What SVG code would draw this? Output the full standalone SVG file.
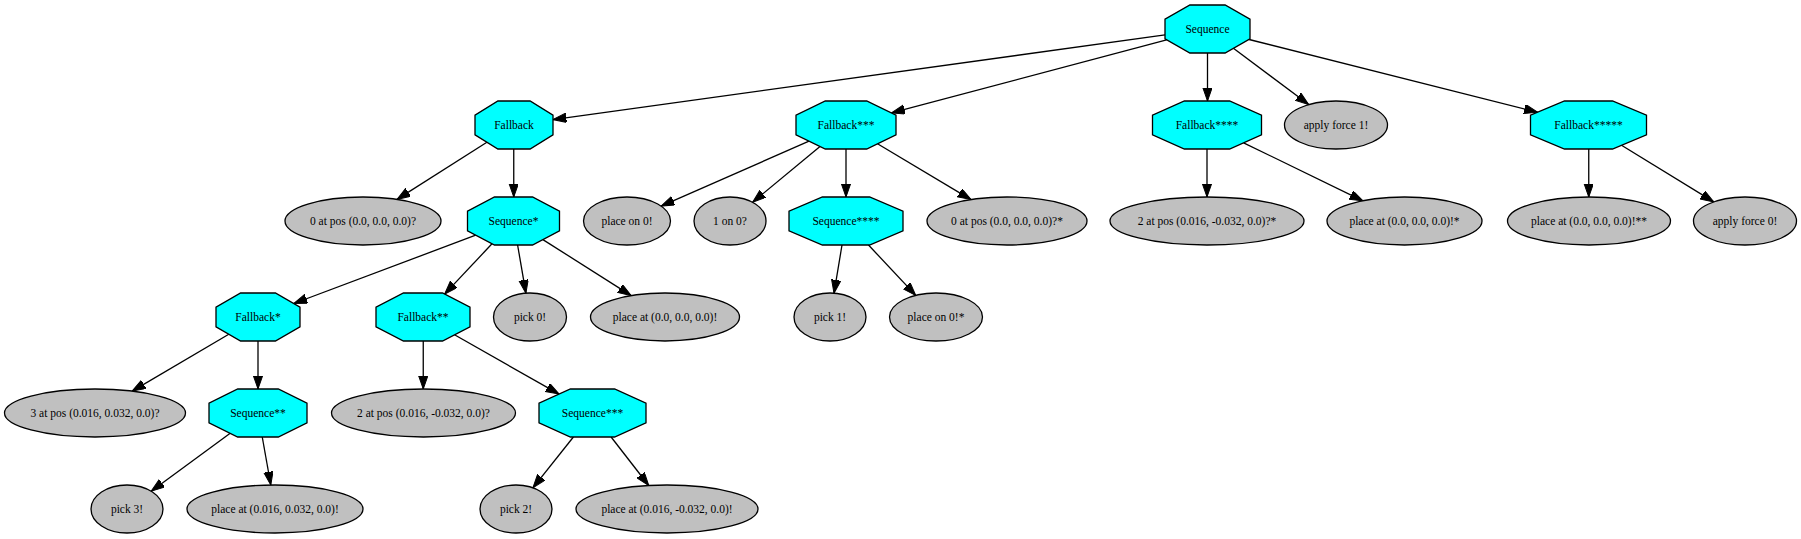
<svg xmlns="http://www.w3.org/2000/svg" width="1801" height="539" viewBox="0 0 1801 539">
<style>
.oct{fill:#00ffff;stroke:#000;stroke-width:1.3}
.ell{fill:#c0c0c0;stroke:#000;stroke-width:1.3}
text{font-family:"Liberation Serif","Times New Roman",serif;font-size:11.5px;text-anchor:middle;fill:#000}
.e line{stroke:#000;stroke-width:1.3;marker-end:url(#ah)}
</style>
<defs>
<marker id="ah" markerUnits="userSpaceOnUse" markerWidth="14" markerHeight="10" refX="13.3" refY="4.67" orient="auto" viewBox="0 0 14 10">
<path d="M0,0 L13.3,4.67 L0,9.33 z" fill="#000" stroke="#000" stroke-width="1"/>
</marker>
</defs>
<rect width="1801" height="539" fill="#fff"/>
<g id="connectors" class="e">
<line x1="1165" y1="34.9" x2="553" y2="119.6"/>
<line x1="1166.6" y1="39.9" x2="891.5" y2="112.9"/>
<line x1="1207.5" y1="53" x2="1207.5" y2="101"/>
<line x1="1233.4" y1="48.3" x2="1308.7" y2="104.6"/>
<line x1="1249.1" y1="39.5" x2="1537.5" y2="112.2"/>
<line x1="486.9" y1="142.2" x2="397" y2="199.4"/>
<line x1="513.75" y1="149" x2="513.75" y2="197"/>
<line x1="475.7" y1="235.2" x2="293.8" y2="303.5"/>
<line x1="492" y1="243.8" x2="444.6" y2="294.1"/>
<line x1="517.6" y1="245" x2="525.9" y2="293.2"/>
<line x1="542.9" y1="239.6" x2="631.2" y2="295.6"/>
<line x1="228.8" y1="334.2" x2="132.2" y2="391.1"/>
<line x1="258" y1="341" x2="258" y2="389"/>
<line x1="230.2" y1="433.3" x2="151.2" y2="491.2"/>
<line x1="262.25" y1="437" x2="270.8" y2="485"/>
<line x1="423.25" y1="341" x2="423.25" y2="389"/>
<line x1="454.5" y1="334.8" x2="559.1" y2="394.1"/>
<line x1="573.4" y1="437" x2="532.9" y2="487.8"/>
<line x1="611.1" y1="437" x2="648.75" y2="485.5"/>
<line x1="809" y1="141.2" x2="661.1" y2="206.1"/>
<line x1="820" y1="146.5" x2="752.6" y2="202.3"/>
<line x1="846" y1="149" x2="846" y2="197"/>
<line x1="877.5" y1="143.8" x2="971" y2="199.6"/>
<line x1="842" y1="245" x2="834" y2="293.2"/>
<line x1="868.5" y1="245" x2="915.75" y2="295.4"/>
<line x1="1207" y1="149" x2="1207" y2="197"/>
<line x1="1243.6" y1="142.8" x2="1362.9" y2="200.8"/>
<line x1="1588.75" y1="149" x2="1588.75" y2="197"/>
<line x1="1621.5" y1="145.3" x2="1713.8" y2="201.9"/>
</g>
<g id="n_seq" transform="translate(1207.5,29)"><polygon class="oct" points="-17.6,-24 17.6,-24 42.5,-9.9 42.5,9.9 17.6,24 -17.6,24 -42.5,9.9 -42.5,-9.9"/><text y="4">Sequence</text></g>
<g id="n_fb" transform="translate(514,125)"><polygon class="oct" points="-16.1,-24 16.1,-24 39,-9.9 39,9.9 16.1,24 -16.1,24 -39,9.9 -39,-9.9"/><text y="4">Fallback</text></g>
<g id="n_fb3" transform="translate(846,125)"><polygon class="oct" points="-20.7,-24 20.7,-24 50,-9.9 50,9.9 20.7,24 -20.7,24 -50,9.9 -50,-9.9"/><text y="4">Fallback***</text></g>
<g id="n_fb4" transform="translate(1207,125)"><polygon class="oct" points="-22.6,-24 22.6,-24 54.5,-9.9 54.5,9.9 22.6,24 -22.6,24 -54.5,9.9 -54.5,-9.9"/><text y="4">Fallback****</text></g>
<g id="n_af1" transform="translate(1336,125)"><ellipse class="ell" rx="51.5" ry="24"/><text y="4">apply force 1!</text></g>
<g id="n_fb5" transform="translate(1588.5,125)"><polygon class="oct" points="-24,-24 24,-24 58,-9.9 58,9.9 24,24 -24,24 -58,9.9 -58,-9.9"/><text y="4">Fallback*****</text></g>
<g id="n_0atpos" transform="translate(363,221)"><ellipse class="ell" rx="78" ry="24"/><text y="4">0 at pos (0.0, 0.0, 0.0)?</text></g>
<g id="n_seq1" transform="translate(513.5,221)"><polygon class="oct" points="-19,-24 19,-24 46,-9.9 46,9.9 19,24 -19,24 -46,9.9 -46,-9.9"/><text y="4">Sequence*</text></g>
<g id="n_placeon0" transform="translate(627,221)"><ellipse class="ell" rx="43.5" ry="24"/><text y="4">place on 0!</text></g>
<g id="n_1on0" transform="translate(730,221)"><ellipse class="ell" rx="36" ry="24"/><text y="4">1 on 0?</text></g>
<g id="n_seq4" transform="translate(846,221)"><polygon class="oct" points="-23.6,-24 23.6,-24 57,-9.9 57,9.9 23.6,24 -23.6,24 -57,9.9 -57,-9.9"/><text y="4">Sequence****</text></g>
<g id="n_0atpos_s" transform="translate(1007,221)"><ellipse class="ell" rx="80" ry="24"/><text y="4">0 at pos (0.0, 0.0, 0.0)?*</text></g>
<g id="n_2atpos_s" transform="translate(1207,221)"><ellipse class="ell" rx="97" ry="24"/><text y="4">2 at pos (0.016, -0.032, 0.0)?*</text></g>
<g id="n_placeat_s" transform="translate(1404.5,221)"><ellipse class="ell" rx="77.5" ry="24"/><text y="4">place at (0.0, 0.0, 0.0)!*</text></g>
<g id="n_placeat_ss" transform="translate(1589,221)"><ellipse class="ell" rx="81.5" ry="24"/><text y="4">place at (0.0, 0.0, 0.0)!**</text></g>
<g id="n_af0" transform="translate(1745,221)"><ellipse class="ell" rx="51.5" ry="24"/><text y="4">apply force 0!</text></g>
<g id="n_fb1" transform="translate(258,317)"><polygon class="oct" points="-17.4,-24 17.4,-24 42,-9.9 42,9.9 17.4,24 -17.4,24 -42,9.9 -42,-9.9"/><text y="4">Fallback*</text></g>
<g id="n_fb2" transform="translate(423,317)"><polygon class="oct" points="-19.5,-24 19.5,-24 47,-9.9 47,9.9 19.5,24 -19.5,24 -47,9.9 -47,-9.9"/><text y="4">Fallback**</text></g>
<g id="n_pick0" transform="translate(530,317)"><ellipse class="ell" rx="36.5" ry="24"/><text y="4">pick 0!</text></g>
<g id="n_placeat0" transform="translate(665,317)"><ellipse class="ell" rx="74.5" ry="24"/><text y="4">place at (0.0, 0.0, 0.0)!</text></g>
<g id="n_pick1" transform="translate(830,317)"><ellipse class="ell" rx="36" ry="24"/><text y="4">pick 1!</text></g>
<g id="n_placeon0_s" transform="translate(936,317)"><ellipse class="ell" rx="46.5" ry="24"/><text y="4">place on 0!*</text></g>
<g id="n_3atpos" transform="translate(95,413)"><ellipse class="ell" rx="90.5" ry="24"/><text y="4">3 at pos (0.016, 0.032, 0.0)?</text></g>
<g id="n_seq2" transform="translate(258,413)"><polygon class="oct" points="-20.3,-24 20.3,-24 49,-9.9 49,9.9 20.3,24 -20.3,24 -49,9.9 -49,-9.9"/><text y="4">Sequence**</text></g>
<g id="n_2atpos" transform="translate(423.5,413)"><ellipse class="ell" rx="92" ry="24"/><text y="4">2 at pos (0.016, -0.032, 0.0)?</text></g>
<g id="n_seq3" transform="translate(592.5,413)"><polygon class="oct" points="-22.1,-24 22.1,-24 53.5,-9.9 53.5,9.9 22.1,24 -22.1,24 -53.5,9.9 -53.5,-9.9"/><text y="4">Sequence***</text></g>
<g id="n_pick3" transform="translate(127,509)"><ellipse class="ell" rx="36" ry="24"/><text y="4">pick 3!</text></g>
<g id="n_placeat3" transform="translate(275,509)"><ellipse class="ell" rx="88" ry="24"/><text y="4">place at (0.016, 0.032, 0.0)!</text></g>
<g id="n_pick2" transform="translate(516,509)"><ellipse class="ell" rx="36" ry="24"/><text y="4">pick 2!</text></g>
<g id="n_placeat2" transform="translate(667,509)"><ellipse class="ell" rx="91" ry="24"/><text y="4">place at (0.016, -0.032, 0.0)!</text></g>
</svg>
